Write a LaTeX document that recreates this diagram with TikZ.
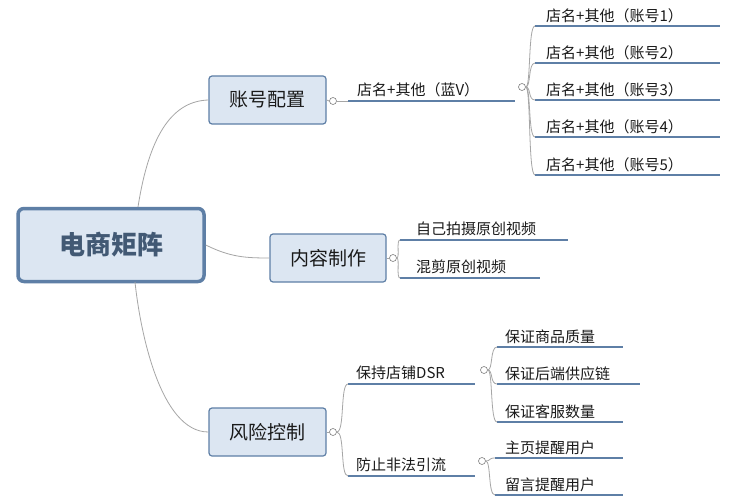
\documentclass[tikz,border=0pt]{standalone}
\usepackage{fontspec}
\setmainfont{Noto Sans CJK SC}
\begin{document}
\begin{tikzpicture}[x=1pt,y=-1pt,
  box/.style={draw=boxline,fill=boxfill,rounded corners=3pt,line width=1.2pt,text=txt,font=\fontsize{19}{22}\selectfont,inner sep=0pt},
  lt/.style={anchor=south west,inner sep=2pt,text=txt,font=\fontsize{15}{17}\selectfont},
  ul/.style={draw=boxline,line width=2pt},
  cn/.style={draw=gray!70,line width=0.8pt},
  tog/.style={circle,draw=gray,fill=white,minimum size=7pt,inner sep=0pt,line width=0.6pt}]
\definecolor{boxline}{HTML}{5E7FA6}
\definecolor{boxfill}{HTML}{DCE6F2}
\definecolor{txt}{HTML}{1A1A1A}
\useasboundingbox[fill=white] (0,0) rectangle (751,500);
% root
\node[box,line width=3.5pt,rounded corners=6pt,minimum width=186pt,minimum height=73pt,font=\bfseries\fontsize{26}{30}\selectfont,text=boxline!70!black] (root) at (111,245) {电商矩阵};
\node[box,minimum width=117pt,minimum height=48pt] (a) at (267.5,100) {账号配置};
\node[box,minimum width=116pt,minimum height=48pt] (b) at (328,258) {内容制作};
\node[box,minimum width=117pt,minimum height=48pt] (c) at (267.5,432) {风险控制};
\draw[cn] (138,207) .. controls (150,130) and (175,101) .. (a.west);
\draw[cn] (root.east) .. controls (230,257) and (245,258) .. (b.west);
\draw[cn] (135,282) .. controls (140,330) and (160,432) .. (c.west);
% toggles
\node[tog] (ta) at (333,101) {};
\node[tog] (tb) at (393,258) {};
\node[tog] (tc) at (333,432) {};
\draw[cn] (a.east) -- (ta.west);
\draw[cn] (b.east) -- (tb.west);
\draw[cn] (c.east) -- (tc.west);
% level 2 under account
\coordinate (a1s) at (348,101); \coordinate (a1e) at (515,101);
\draw[ul] (a1s) -- (a1e);
\draw[cn] (ta.east) -- (a1s);
\node[lt,anchor=south west] (a1) at (355,99) {店名+其他（蓝V）};
\node[tog] (ta1) at (522,87) {};
\foreach \i/\y in {1/26,2/63,3/100,4/137,5/175}{
  \coordinate (s\i) at (535,\y); \coordinate (e\i) at (720,\y);
  \draw[ul] (s\i) -- (e\i);
  \node[lt] (l\i) at (544,\y-1) {店名+其他（账号\i）};
  \draw[cn] (ta1.east) .. controls (531,87) and (528,\y) .. (s\i);
}
% content
\coordinate (b1s) at (400,240); \coordinate (b1e) at (568,240);
\coordinate (b2s) at (400,278); \coordinate (b2e) at (540,278);
\draw[ul] (b1s) -- (b1e); \draw[ul] (b2s) -- (b2e);
\node[lt] (b1) at (414,238) {自己拍摄原创视频};
\node[lt] (b2) at (414,276) {混剪原创视频};
\draw[cn] (tb.east) .. controls (400,258) and (396,240) .. (b1s);
\draw[cn] (tb.east) .. controls (400,258) and (396,278) .. (b2s);
% risk
\coordinate (c1s) at (348,384); \coordinate (c1e) at (475,384);
\coordinate (c2s) at (348,476); \coordinate (c2e) at (475,476);
\draw[ul] (c1s) -- (c1e); \draw[ul] (c2s) -- (c2e);
\node[lt] (c1) at (354,382) {保持店铺DSR};
\node[lt] (c2) at (354,474) {防止非法引流};
\draw[cn] (tc.east) .. controls (345,432) and (340,384) .. (c1s);
\draw[cn] (tc.east) .. controls (345,432) and (340,476) .. (c2s);
\node[tog] (tc1) at (484,370) {};
\node[tog] (tc2) at (482,461) {};
\foreach \n/\y/\t/\w in {d1/347/保证商品质量/623,d2/384/保证后端供应链/640,d3/422/保证客服数量/623}{
  \coordinate (\n s) at (497,\y); \coordinate (\n e) at (\w,\y);
  \draw[ul] (\n s) -- (\n e);
  \node[lt] (\n) at (503,\y-1) {\t};
  \draw[cn] (tc1.east) .. controls (493,370) and (490,\y) .. (\n s);
}
\foreach \n/\y/\t/\w in {f1/458/主页提醒用户/623,f2/495/留言提醒用户/623}{
  \coordinate (\n s) at (495,\y); \coordinate (\n e) at (\w,\y);
  \draw[ul] (\n s) -- (\n e);
  \node[lt] (\n) at (503,\y-1) {\t};
  \draw[cn] (tc2.east) .. controls (491,461) and (488,\y) .. (\n s);
}
\end{tikzpicture}
\end{document}
